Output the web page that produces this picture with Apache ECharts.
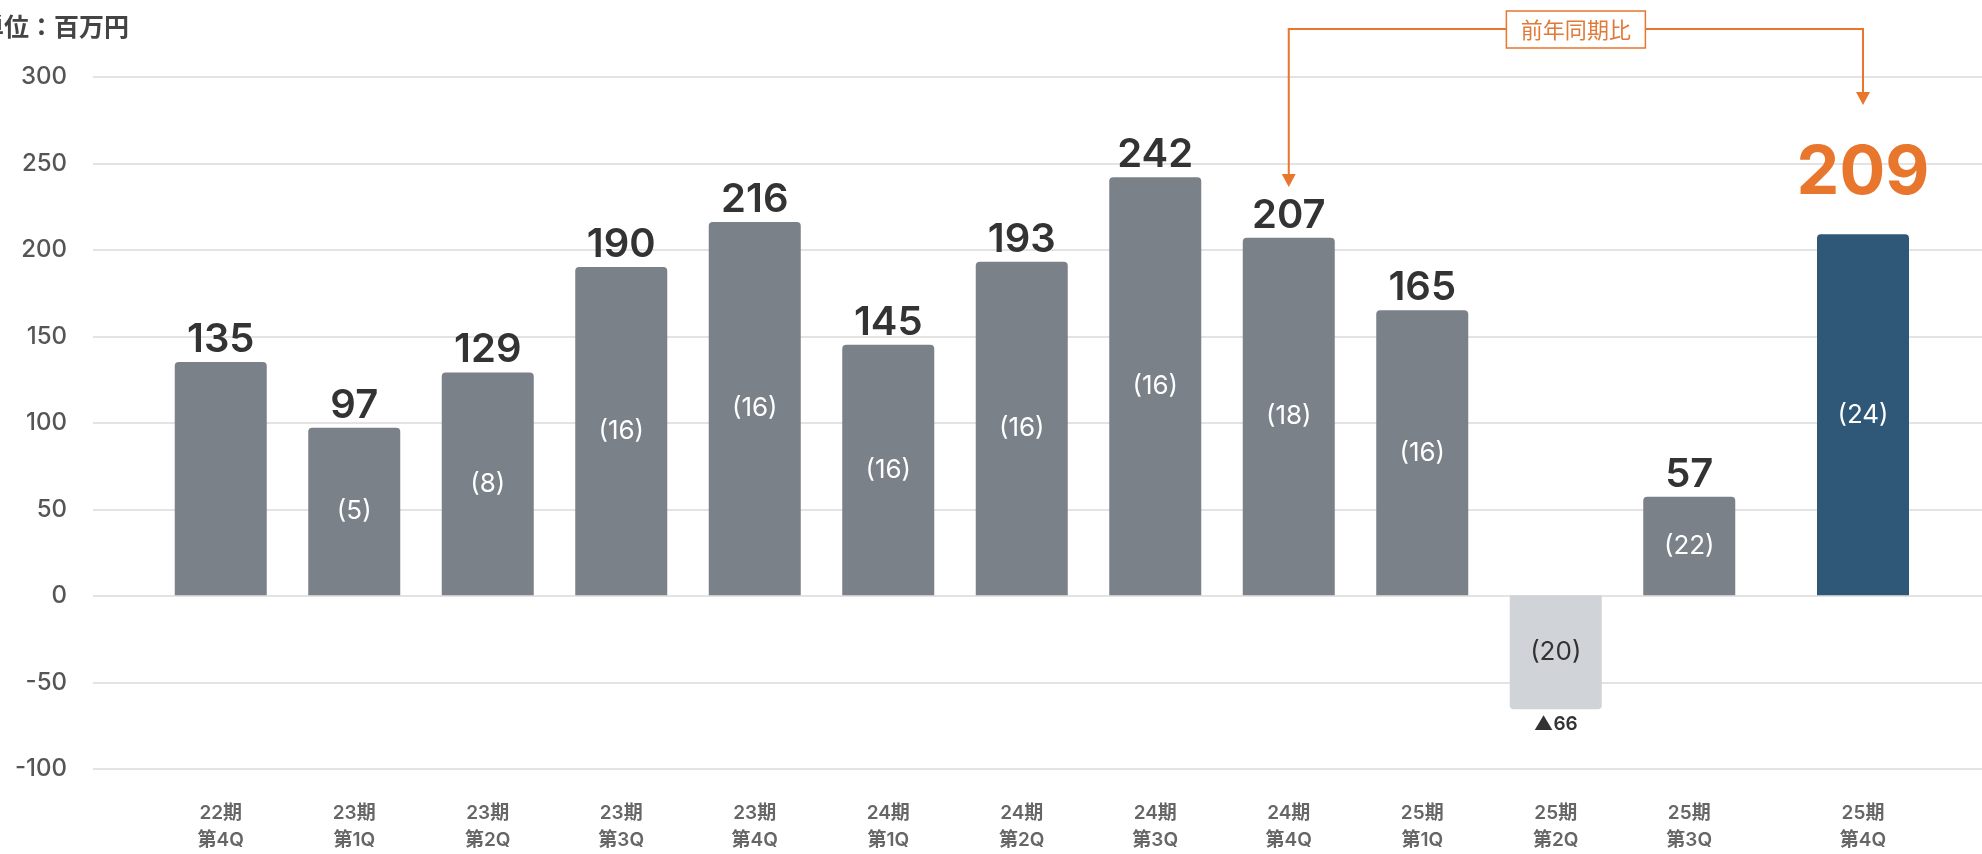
<!DOCTYPE html>
<html lang="ja">
<head>
<meta charset="utf-8">
<title>四半期別 営業利益</title>
<script src="https://cdn.jsdelivr.net/npm/echarts@6/dist/echarts.min.js"></script>
<style>
  html, body { margin: 0; padding: 0; background: #ffffff; }
  #chart { width: 1982px; height: 854px; }
</style>
</head>
<body>
<div id="chart"></div>
<script>
// Quarter labels (period / quarter)
const categories = [
  '22期\n第4Q', '23期\n第1Q', '23期\n第2Q', '23期\n第3Q', '23期\n第4Q',
  '24期\n第1Q', '24期\n第2Q', '24期\n第3Q', '24期\n第4Q',
  '25期\n第1Q', '25期\n第2Q', '25期\n第3Q', '25期\n第4Q'
];
// Main values (百万円); negative values are shown with ▲
const values = [135, 97, 129, 190, 216, 145, 193, 242, 207, 165, -66, 57, 209];
// Figures shown in parentheses inside each bar (none for the first quarter)
const innerValues = [null, 5, 8, 16, 16, 16, 16, 16, 18, 16, 20, 22, 24];
// Value axis ticks
const yMin = -100, yMax = 300, yStep = 50;
// The comparison bracket links these two quarters
const compareFrom = 8, compareTo = 12;

const FONT = 'Inter, "Noto Sans CJK JP", sans-serif';
const CJK = '"Noto Sans CJK JP", sans-serif';
const GRAY = '#7b8189', LIGHT = '#d0d4d8', NAVY = '#2e5778', ORANGE = '#e8762c';
const BAR_W = 92;

const histCats = categories.slice(0, 12), histVals = values.slice(0, 12), histInner = innerValues.slice(0, 12);
const curCats = categories.slice(12), curVals = values.slice(12), curInner = innerValues.slice(12);

const chart = echarts.init(document.getElementById('chart'), null, { renderer: 'canvas' });

const catAxis = (gridIndex, data) => ({
  gridIndex, type: 'category', data,
  axisLine: { show: false }, axisTick: { show: false },
  axisLabel: {
    fontFamily: FONT, fontSize: 19, fontWeight: 600, color: '#666',
    lineHeight: 27, margin: 32, interval: 0
  }
});
const hiddenY = gridIndex => ({ gridIndex, type: 'value', min: yMin, max: yMax, interval: yStep, show: false, splitLine: { show: false } });

const fmtValue = p => (p.value < 0 ? '▲' + (-p.value) : String(p.value));
const innerFmt = arr => p => (arr[p.dataIndex] == null ? '' : '(' + arr[p.dataIndex] + ')');

chart.setOption({
  backgroundColor: '#ffffff',
  animation: false,
  textStyle: { fontFamily: FONT },
  grid: [
    { left: 93, right: 0, top: 77, bottom: 85 },
    { left: 154, width: 1602, top: 77, bottom: 85 },
    { left: 1796, width: 134, top: 77, bottom: 85 }
  ],
  xAxis: [
    { gridIndex: 0, type: 'value', min: 0, max: 1, show: false },
    catAxis(1, histCats),
    catAxis(2, curCats)
  ],
  yAxis: [
    {
      gridIndex: 0, type: 'value', min: yMin, max: yMax, interval: yStep,
      axisLine: { show: false }, axisTick: { show: false },
      axisLabel: { fontFamily: FONT, fontSize: 24, fontWeight: 500, color: '#555', margin: 26 },
      splitLine: { lineStyle: { color: '#dadada', width: 1.5 } }
    },
    hiddenY(1),
    hiddenY(2)
  ],
  series: [
    {
      name: '実績', type: 'bar', xAxisIndex: 1, yAxisIndex: 1, barWidth: BAR_W,
      data: histVals.map(v => ({
        value: v,
        itemStyle: { color: v < 0 ? LIGHT : GRAY, borderRadius: v < 0 ? [0, 0, 4, 4] : [4, 4, 0, 0] },
        label: v < 0 ? { position: 'bottom', distance: 6, fontSize: 19, fontWeight: 600, color: '#333' } : undefined
      })),
      label: {
        show: true, position: 'top', distance: 2, formatter: fmtValue,
        fontFamily: FONT, fontSize: 40, fontWeight: 600, color: '#333'
      },
      z: 2
    },
    {
      name: '内訳', type: 'bar', xAxisIndex: 1, yAxisIndex: 1, barWidth: BAR_W, barGap: '-100%',
      silent: true,
      data: histVals.map(v => ({
        value: v,
        label: v < 0 ? { color: '#333' } : undefined
      })),
      itemStyle: { color: 'rgba(0,0,0,0)' },
      label: {
        show: true, position: 'inside', formatter: innerFmt(histInner),
        fontFamily: FONT, fontSize: 26, color: '#ffffff'
      },
      z: 3
    },
    {
      name: '当期', type: 'bar', xAxisIndex: 2, yAxisIndex: 2, barWidth: BAR_W,
      data: curVals.map(v => ({ value: v })),
      itemStyle: { color: NAVY, borderRadius: [4, 4, 0, 0] },
      label: {
        show: true, position: 'top', distance: 27, formatter: fmtValue,
        fontFamily: FONT, fontSize: 68, fontWeight: 700, color: ORANGE
      },
      z: 2
    },
    {
      name: '当期内訳', type: 'bar', xAxisIndex: 2, yAxisIndex: 2, barWidth: BAR_W, barGap: '-100%',
      silent: true,
      data: curVals.map(v => ({ value: v })),
      itemStyle: { color: 'rgba(0,0,0,0)' },
      label: {
        show: true, position: 'inside', formatter: innerFmt(curInner),
        fontFamily: FONT, fontSize: 26, color: '#ffffff'
      },
      z: 3
    }
  ]
});

// Year-over-year bracket with arrows, placed from the category positions
const xFrom = chart.convertToPixel({ xAxisIndex: 1 }, compareFrom);
const xTo = chart.convertToPixel({ xAxisIndex: 2 }, compareTo - 12);
const lineY = 29, tipFrom = 187, tipTo = 105, headH = 13, headW = 7;
const midX = (xFrom + xTo) / 2;
const boxW = 139, boxH = 37, boxTop = 11;

chart.setOption({
  graphic: [
    {
      type: 'text', left: -21, top: 14,
      style: { text: '単位：百万円', font: 'bold 25px ' + CJK, fill: '#444' }
    },
    {
      type: 'polyline', silent: true,
      shape: { points: [[xFrom, tipFrom - headH], [xFrom, lineY], [xTo, lineY], [xTo, tipTo - headH]] },
      style: { stroke: ORANGE, lineWidth: 2, fill: null }
    },
    {
      type: 'polygon', silent: true,
      shape: { points: [[xFrom - headW, tipFrom - headH], [xFrom + headW, tipFrom - headH], [xFrom, tipFrom]] },
      style: { fill: ORANGE }
    },
    {
      type: 'polygon', silent: true,
      shape: { points: [[xTo - headW, tipTo - headH], [xTo + headW, tipTo - headH], [xTo, tipTo]] },
      style: { fill: ORANGE }
    },
    {
      type: 'rect', silent: true,
      shape: { x: midX - boxW / 2, y: boxTop, width: boxW, height: boxH },
      style: { fill: '#ffffff', stroke: ORANGE, lineWidth: 1.5 }
    },
    {
      type: 'text', silent: true, x: midX, y: boxTop + boxH / 2,
      style: { text: '前年同期比', font: '22px ' + CJK, fill: '#e07a3a', align: 'center', verticalAlign: 'middle' }
    }
  ]
});
</script>
</body>
</html>
